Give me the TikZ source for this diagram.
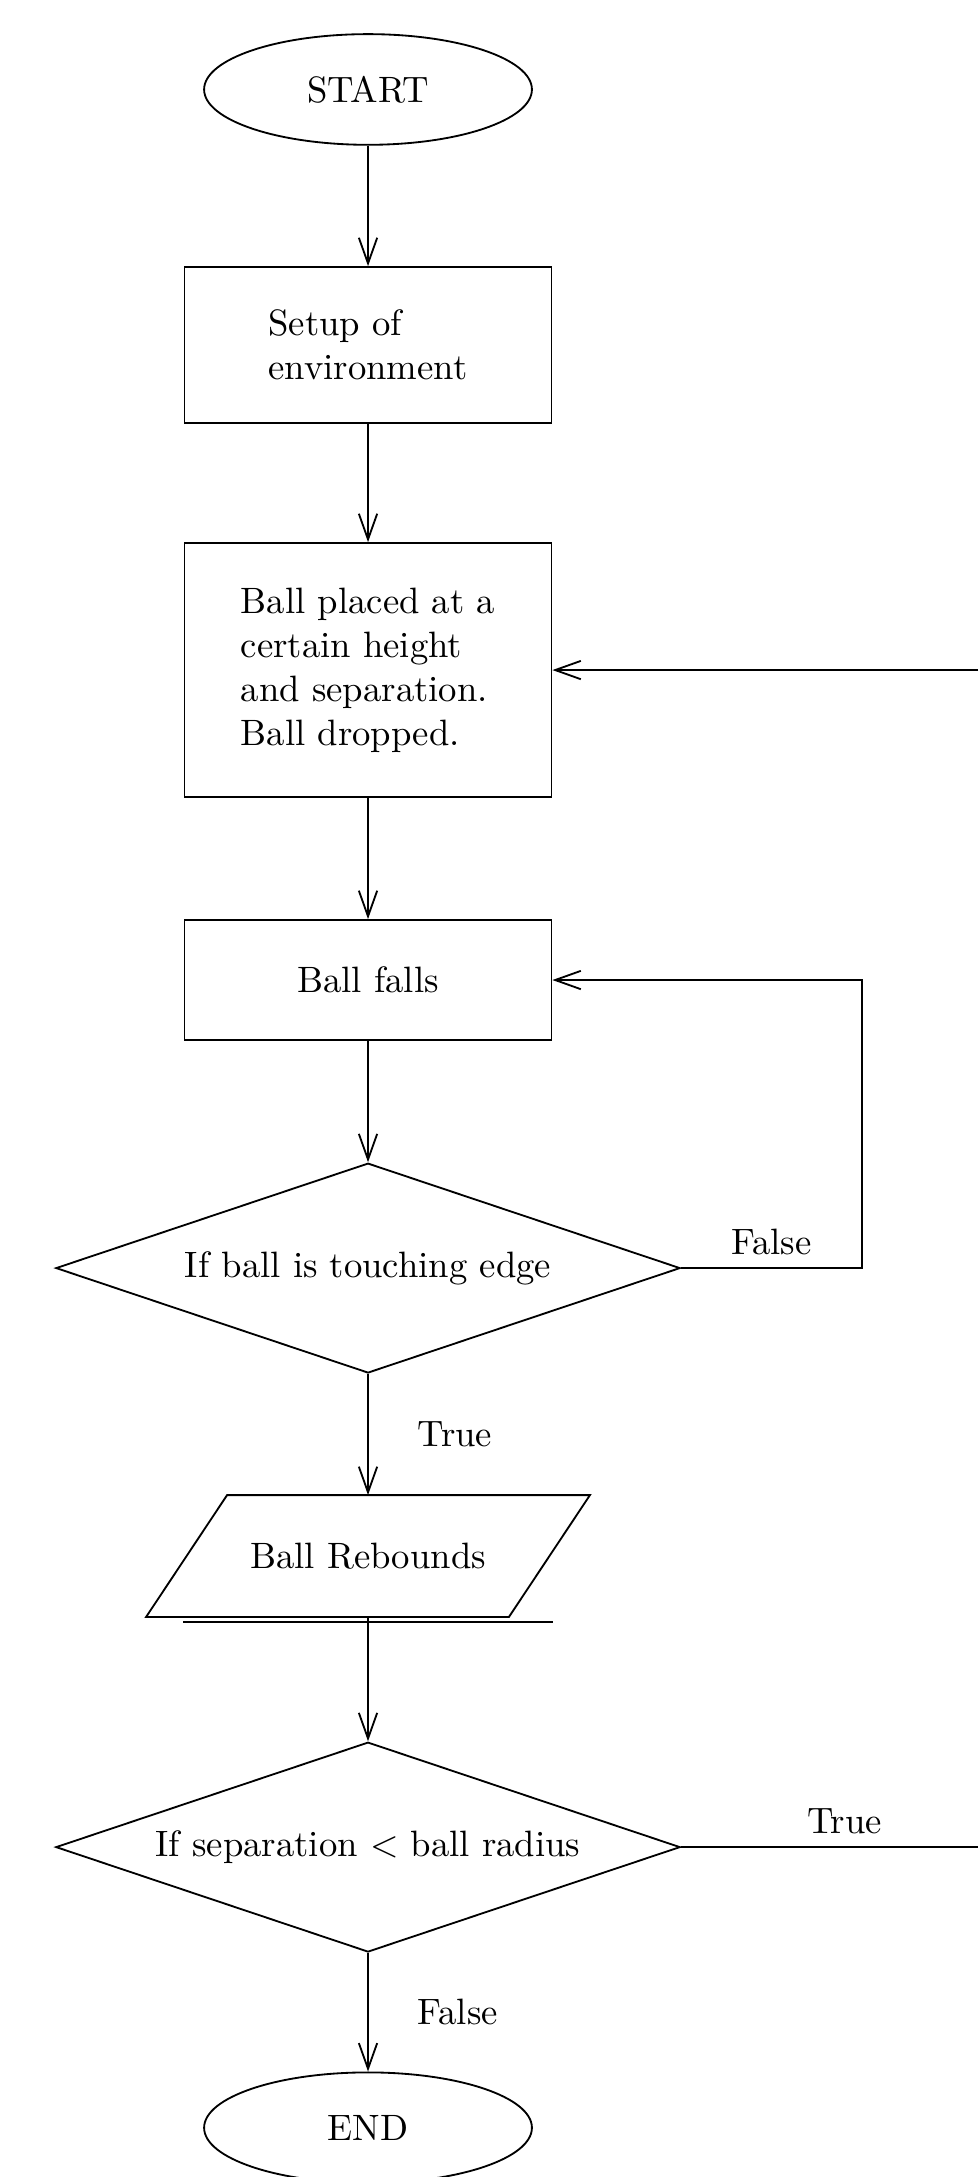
\documentclass[tikz,border=0pt]{standalone}
\usetikzlibrary{%
  calc,arrows.meta,%
  shapes.geometric}
\tikzset {>={Straight Barb[length=7pt,width=5pt]}}

\begin{document}
\begin{tikzpicture}[line width=.5pt,
  terminal/.style={draw,ellipse,minimum width=3.14cm,minimum height=1.06cm},
  process/.style={draw,rectangle,minimum width=3.515cm,align=left},
  decision/.style={draw,diamond,aspect=3,inner sep=1pt,
    minimum width=5.98cm,minimum height=2.01cm},
  io/.style={rectangle,minimum width=3.458cm,minimum height=1.15cm}]
\useasboundingbox (0,0) rectangle (9.368,-20.852);
\node[terminal] (start) at (3.525,-.857) {START};
\node[process,minimum height=1.494cm] (setup) at (3.525,-3.305)
  {Setup of\\environment};
\node[process,minimum height=2.433cm] (place) at (3.525,-6.418)
  {Ball placed at a\\certain height\\and separation.\\Ball dropped.};
\node[process,minimum height=1.15cm] (falls) at (3.525,-9.387) {Ball falls};
\node[decision] (touch) at (3.525,-12.146) {If ball is touching edge};
\node[io] (rebound) at (3.525,-14.904) {Ball Rebounds};
\draw ($(rebound.north west)+(.388,0)$) -- ($(rebound.north east)+(.388,0)$) --
  ($(rebound.south east)-(.388,0)$) -- ($(rebound.south west)-(.388,0)$) -- cycle;
\draw ($(rebound.south west)+(-.03,-.05)$) -- ($(rebound.south east)+(.03,-.05)$);
\node[decision] (sep) at (3.525,-17.692) {If separation $<$ ball radius};
\node[terminal] (end) at (3.525,-20.38) {END};
\coordinate (corner) at (8.257,-12.146);
\coordinate (edgeA) at (9.368,-6.418);
\coordinate (edgeB) at (9.368,-17.692);
% main line
\draw[->] (start) -- (setup);
\draw[->] (setup) -- (place);
\draw[->] (place) -- (falls);
\draw[->] (falls) -- (touch);
\draw[->] (touch) -- node[right,xshift=.35cm] {True} (rebound);
\draw[->] (rebound) -- (sep);
\draw[->] (sep) -- node[right,xshift=.35cm] {False} (end);
% loops
\draw[->] (touch) -- node[above] {False} (corner) |- (falls);
\draw (sep) -- node[above,pos=.55] {True} (edgeB);
\draw[->] (edgeA) -- (place);
\end{tikzpicture}
\end{document}
